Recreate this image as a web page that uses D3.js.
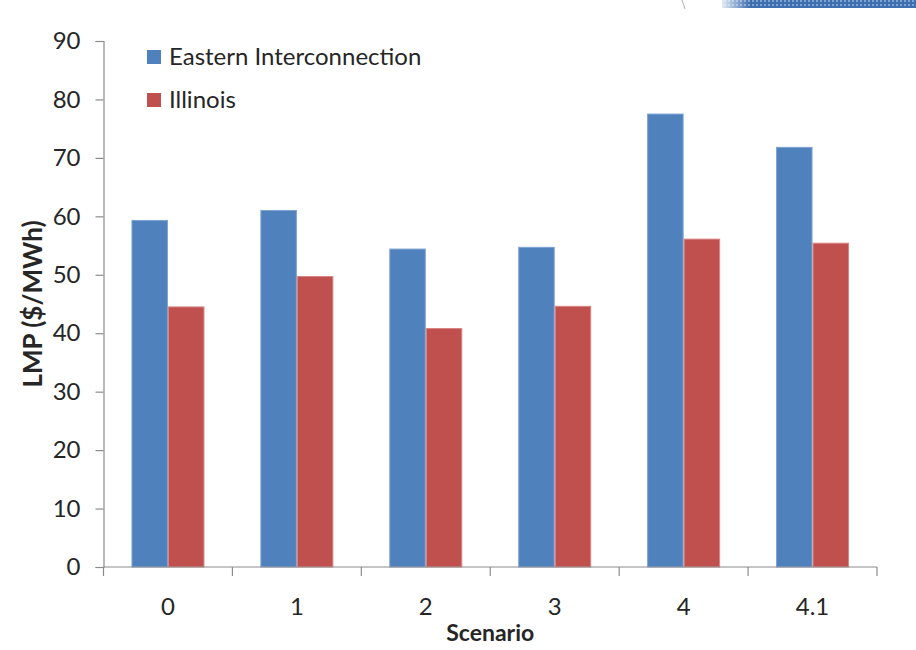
<!DOCTYPE html>
<html>
<head>
<meta charset="utf-8">
<script src="https://cdn.jsdelivr.net/npm/d3@7"></script>
<style>
  html, body { margin: 0; padding: 0; background: #fff; }
  svg { display: block; }
  text { font-family: Lato, "Open Sans", sans-serif; fill: #262626; }
</style>
</head>
<body>
<svg id="chart" width="916" height="650"></svg>
<script>
// Scenario categories and average LMP per region ($/MWh)
const scenarios = ["0", "1", "2", "3", "4", "4.1"];
const eastern = [59.3, 61.0, 54.4, 54.7, 77.5, 71.8];
const illinois = [44.5, 49.7, 40.8, 44.6, 56.1, 55.4];
const seriesNames = ["Eastern Interconnection", "Illinois"];
const seriesColors = ["#4F81BD", "#C0504D"];
const seriesEdge = ["#7FA3D3", "#D88583"];
const yTicks = [0, 10, 20, 30, 40, 50, 60, 70, 80, 90];

const svg = d3.select("#chart");
const W = 916, H = 650;
const margin = { left: 103.5, right: W - 877, top: 41, bottom: H - 567 };

const x = d3.scaleBand().domain(scenarios)
  .range([margin.left, W - margin.right]).paddingInner(0).paddingOuter(0);
// two bars side by side, filling the middle part of each category slot
const groupWidth = 73;
const inner = d3.scaleBand().domain([0, 1])
  .range([(x.bandwidth() - groupWidth) / 2, (x.bandwidth() + groupWidth) / 2])
  .paddingInner(0).paddingOuter(0);
const y = d3.scaleLinear().domain([0, 90]).range([H - margin.bottom, margin.top]);

// Decorative banner in the top-right corner
const deco = svg.append("g");
const defs = svg.append("defs");
const pat = defs.append("pattern").attr("id", "dots")
  .attr("width", 4).attr("height", 4).attr("patternUnits", "userSpaceOnUse");
pat.append("rect").attr("width", 4).attr("height", 4).attr("fill", "#3f6fae");
pat.append("rect").attr("width", 2).attr("height", 2).attr("fill", "#7ea4d4");
const grad = defs.append("linearGradient").attr("id", "fade");
grad.append("stop").attr("offset", "0").attr("stop-color", "#fff").attr("stop-opacity", 0.85);
grad.append("stop").attr("offset", "1").attr("stop-color", "#fff").attr("stop-opacity", 0);
deco.append("rect").attr("x", 722).attr("y", 0).attr("width", 194).attr("height", 8).attr("fill", "url(#dots)");
deco.append("rect").attr("x", 722).attr("y", 0).attr("width", 28).attr("height", 8).attr("fill", "url(#fade)");
deco.append("path").attr("d", "M682,0 Q683.5,4 685,9").attr("fill", "none")
  .attr("stroke", "#b0b0b0").attr("stroke-width", 1);

// Bars
const rows = scenarios.map((s, i) => ({ s, v: [eastern[i], illinois[i]] }));
const groups = svg.append("g").selectAll("g").data(rows).join("g")
  .attr("transform", d => `translate(${x(d.s)},0)`);
groups.selectAll("rect").data(d => d.v.map((v, k) => ({ v, k }))).join("rect")
  .attr("x", d => inner(d.k) + 0.5)
  .attr("y", d => y(d.v))
  .attr("width", inner.bandwidth() - 1)
  .attr("height", d => y(0) - y(d.v))
  .attr("fill", d => seriesColors[d.k])
  .attr("stroke", d => seriesEdge[d.k])
  .attr("stroke-width", 1);

// Y axis
const yAxis = svg.append("g").attr("transform", `translate(${margin.left},0)`)
  .call(d3.axisLeft(y).tickValues(yTicks).tickSize(8).tickPadding(15));
yAxis.select(".domain").attr("stroke", "#8c8c8c").attr("stroke-width", 1.2);
yAxis.selectAll(".tick line").attr("stroke", "#8c8c8c").attr("stroke-width", 1.2);
yAxis.selectAll(".tick text").style("font-size", "24px").attr("fill", "#262626")
  .style("font-family", "Lato, sans-serif");

// X axis with tick marks at category boundaries
const xAxis = svg.append("g").attr("transform", `translate(0,${y(0)})`);
xAxis.append("line").attr("x1", margin.left).attr("x2", W - margin.right)
  .attr("stroke", "#8c8c8c").attr("stroke-width", 1.2);
const bounds = scenarios.map(s => x(s)).concat([x(scenarios[scenarios.length - 1]) + x.bandwidth()]);
xAxis.selectAll("line.tk").data(bounds).join("line").attr("class", "tk")
  .attr("x1", d => d).attr("x2", d => d).attr("y1", 0).attr("y2", 9)
  .attr("stroke", "#8c8c8c").attr("stroke-width", 1.2);
xAxis.selectAll("text").data(scenarios).join("text")
  .attr("x", d => x(d) + x.bandwidth() / 2).attr("y", 48)
  .attr("text-anchor", "middle").style("font-size", "24px").text(d => d);

// Axis titles
svg.append("text").attr("x", (margin.left + W - margin.right) / 2).attr("y", 641)
  .attr("text-anchor", "middle").style("font-size", "23px").style("font-weight", "bold")
  .text("Scenario");
svg.append("text").attr("transform", `translate(42,${(y(0) + y(90)) / 2}) rotate(-90)`)
  .attr("text-anchor", "middle").style("font-size", "26px").style("font-weight", "bold")
  .text("LMP ($/MWh)");

// Legend
const legend = svg.append("g");
seriesNames.forEach((name, i) => {
  const g = legend.append("g").attr("transform", `translate(147,${50 + i * 43})`);
  g.append("rect").attr("width", 14).attr("height", 14).attr("fill", seriesColors[i]);
  g.append("text").attr("x", 22).attr("y", 15).style("font-size", "24px").text(name);
});
</script>
</body>
</html>
